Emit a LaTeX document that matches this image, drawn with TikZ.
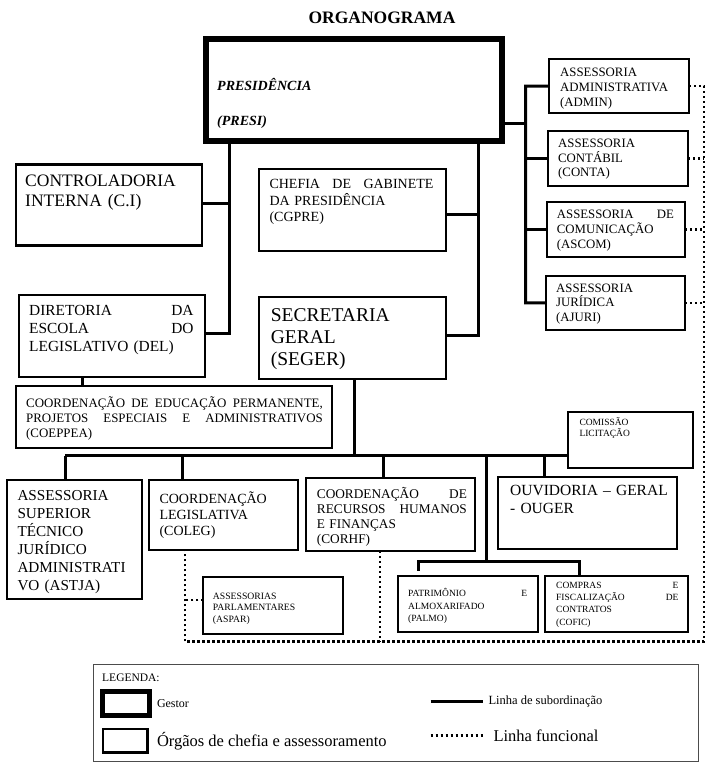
\documentclass[tikz,border=0pt]{standalone}
\usepackage{fontspec}
\setmainfont{Liberation Serif}
\usepackage{xcolor}
\newcommand{\fsz}[2]{\fontsize{#1}{#2}\selectfont}
\newcommand{\jl}[2]{\leavevmode\hbox to #1pt{#2}}

\begin{document}
\begin{tikzpicture}[x=1pt, y=-1pt,
  orgbox/.style={draw, line width=2.2pt, anchor=north west, inner sep=0pt, outer sep=0pt},
  gestorbox/.style={orgbox, line width=6pt},
  txt/.style={anchor=base west, inner sep=0pt, align=left},
  sub/.style={line width=3pt},
  func/.style={line width=2.6pt, dash pattern=on 2.4pt off 2.6pt}]
\path[fill=white, use as bounding box] (0,0) rectangle (721,768);
\node[anchor=base, font=\fsz{17.5}{20}\bfseries] (title) at (382,23.3) {ORGANOGRAMA};

\node[gestorbox, minimum width=296, minimum height=101.5] (presi) at (206,39.5) {};
\node[orgbox, minimum width=140, minimum height=54] (admin) at (549,59) {};
\node[orgbox, minimum width=140, minimum height=55] (conta) at (548,131) {};
\node[orgbox, minimum width=138.3, minimum height=55] (ascom) at (546.7,202) {};
\node[orgbox, minimum width=139.3, minimum height=54.3] (ajuri) at (545.7,275.7) {};
\node[orgbox, minimum width=186, minimum height=81] (ci) at (16,164.5) {};
\node[orgbox, minimum width=186.7, minimum height=82] (cgpre) at (259,169) {};
\node[orgbox, minimum width=186, minimum height=81.7] (del) at (19,295) {};
\node[orgbox, minimum width=186.7, minimum height=82.3] (seger) at (259,296.7) {};
\node[orgbox, minimum width=316, minimum height=62] (coeppea) at (16,386) {};
\node[orgbox, minimum width=124.4, minimum height=56] (comissao) at (568.3,412.3) {};
\node[orgbox, minimum width=134.7, minimum height=119] (astja) at (7,480) {};
\node[orgbox, minimum width=149, minimum height=70] (coleg) at (149.3,480) {};
\node[orgbox, minimum width=169, minimum height=72.7] (corhf) at (306,478.3) {};
\node[orgbox, minimum width=178.4, minimum height=72.3] (ouger) at (498.3,476.7) {};
\node[orgbox, minimum width=139.4, minimum height=57] (aspar) at (203.3,577.3) {};
\node[orgbox, minimum width=140, minimum height=56] (palmo) at (398,576) {};
\node[orgbox, minimum width=143, minimum height=56] (cofic) at (545,576) {};

\node[txt, text width=270, font=\fsz{14}{35.5}\bfseries\itshape] (presi-t) at ([shift={(11,50.5)}]presi.north west) {PRESIDÊNCIA\\(PRESI)};
\node[txt, text width=120, font=\fsz{12.8}{15}] (admin-t) at ([shift={(11,17)}]admin.north west) {ASSESSORIA\\ADMINISTRATIVA\\(ADMIN)};
\node[txt, text width=120, font=\fsz{12.8}{14.5}] (conta-t) at ([shift={(10,16.7)}]conta.north west) {ASSESSORIA\\CONTÁBIL\\(CONTA)};
\node[txt, text width=117, font=\fsz{12.8}{15}] (ascom-t) at ([shift={(10,16.3)}]ascom.north west) {\jl{117}{ASSESSORIA\hfill DE}\\COMUNICAÇÃO\\(ASCOM)};
\node[txt, text width=120, font=\fsz{12.8}{14.2}] (ajuri-t) at ([shift={(10.3,17)}]ajuri.north west) {ASSESSORIA\\JURÍDICA\\(AJURI)};
\node[txt, text width=170, font=\fsz{17.5}{20}] (ci-t) at ([shift={(9,22.2)}]ci.north west) {CONTROLADORIA\\INTERNA (C.I)};
\node[txt, text width=164, font=\fsz{14}{16.7}] (cgpre-t) at ([shift={(10.3,19.3)}]cgpre.north west) {\jl{164}{CHEFIA\hfill DE\hfill GABINETE}\\DA PRESIDÊNCIA\\(CGPRE)};
\node[txt, text width=164.3, font=\fsz{15.4}{18}] (del-t) at ([shift={(10,20)}]del.north west) {\jl{164.3}{DIRETORIA\hfill DA}\\\jl{164.3}{ESCOLA\hfill DO}\\LEGISLATIVO (DEL)};
\node[txt, text width=165, font=\fsz{19.5}{22}] (seger-t) at ([shift={(11.7,25)}]seger.north west) {SECRETARIA\\GERAL\\(SEGER)};
\node[txt, text width=296.6, font=\fsz{12.9}{15}] (coeppea-t) at ([shift={(10,21.7)}]coeppea.north west) {\jl{296.6}{COORDENAÇÃO\hfill DE\hfill EDUCAÇÃO\hfill PERMANENTE,}\\\jl{296.6}{PROJETOS\hfill ESPECIAIS\hfill E\hfill ADMINISTRATIVOS}\\(COEPPEA)};
\node[txt, text width=100, font=\fsz{9.5}{11}] (comissao-t) at ([shift={(11,13.4)}]comissao.north west) {COMISSÃO\\LICITAÇÃO};
\node[txt, text width=120, font=\fsz{15.2}{18}] (astja-t) at ([shift={(10.3,20)}]astja.north west) {ASSESSORIA\\SUPERIOR\\TÉCNICO\\JURÍDICO\\ADMINISTRATI\\VO (ASTJA)};
\node[txt, text width=130, font=\fsz{14}{16.3}] (coleg-t) at ([shift={(10,23.3)}]coleg.north west) {COORDENAÇÃO\\LEGISLATIVA\\(COLEG)};
\node[txt, text width=150, font=\fsz{13.3}{15.2}] (corhf-t) at ([shift={(10.7,20)}]corhf.north west) {\jl{150}{COORDENAÇÃO\hfill DE}\\\jl{150}{RECURSOS\hfill HUMANOS}\\E FINANÇAS\\(CORHF)};
\node[txt, text width=160, font=\fsz{15.5}{18}] (ouger-t) at ([shift={(11.7,18.3)}]ouger.north west) {OUVIDORIA – GERAL\\- OUGER};
\node[txt, text width=120, font=\fsz{9.7}{11.5}] (aspar-t) at ([shift={(9.4,22)}]aspar.north west) {ASSESSORIAS\\PARLAMENTARES\\(ASPAR)};
\node[txt, text width=119, font=\fsz{9.5}{12.5}] (palmo-t) at ([shift={(10,20.7)}]palmo.north west) {\jl{119}{PATRIMÔNIO\hfill E}\\ALMOXARIFADO\\(PALMO)};
\node[txt, text width=122.3, font=\fsz{9.5}{12.3}] (cofic-t) at ([shift={(11,12.3)}]cofic.north west) {\jl{122.3}{COMPRAS\hfill E}\\\jl{122.3}{FISCALIZAÇÃO\hfill DE}\\CONTRATOS\\(COFIC)};

\coordinate (lk) at (229.5,333.3);
\coordinate (ck) at (229.5,203.3);
\coordinate (mk) at (478.5,335);
\coordinate (gk) at (478.5,214.3);
\coordinate (pk) at (525.5,123.3);
\coordinate (rk) at (525.5,302.8);
\coordinate (fk) at (704,641.7);
\coordinate (dk) at (185,641.7);
\coordinate (ak) at (185,600);
\coordinate (ek) at (380,641.7);
\coordinate (sk) at (354,455.5);
\coordinate (bk) at (65,455.5);
\coordinate (kk) at (486,455.5);
\coordinate (pb1) at (418.3,561.7);
\coordinate (pb2) at (579,561.7);

\draw[sub] (presi.south -| lk) -- (lk) -- (del.east |- lk);
\draw[sub] (ci.east |- ck) -- (ck);
\draw[sub] (presi.south -| mk) -- (mk) -- (seger.east |- mk);
\draw[sub] (cgpre.east |- gk) -- (gk);
\draw[sub] (admin.west) -| (rk) -- (ajuri.west);
\draw[sub] (presi.east |- pk) -- (pk);
\draw[sub] (conta.west) -- (conta.west -| rk);
\draw[sub] (ascom.west) -- (ascom.west -| rk);
\draw[sub] (del.south -| 82.3,0) -- (coeppea.north -| 82.3,0);
\draw[sub] (seger.south -| sk) -- (sk);
\draw[sub] (bk) -- (comissao.west |- bk);
\foreach \n/\x in {astja/65, coleg/182, corhf/383, ouger/544}
  \draw[sub] (\x,455.5) -- (\n.north -| \x,0);
\draw[sub] (kk) -- (kk |- pb1);
\draw[sub] ([yshift=-9]pb1) -- (pb1) -- (pb2) -- (cofic.north -| pb2);

\draw[func] (admin.east) -| (fk) -- (dk) -- (dk |- coleg.south);
\foreach \n in {conta, ascom, ajuri}
  \draw[func] (\n.east) -- (\n.east -| fk);
\draw[func] (aspar.west |- ak) -- (ak);
\draw[func] (corhf.south -| ek) -- (ek);

\node[draw=black!70, line width=1pt, anchor=north west, minimum width=605, minimum height=97, inner sep=0pt] (legend) at (92.5,663.5) {};
\node[txt, font=\fsz{11.5}{13}] (legend-t) at ([shift={(9.5,17.9)}]legend.north west) {LEGENDA:};
\node[orgbox, line width=5pt, minimum width=47, minimum height=24] (lgestor) at (102,691.5) {};
\node[txt, font=\fsz{12}{14}] (lgestor-t) at (156.8,707) {Gestor};
\node[orgbox, minimum width=44.2, minimum height=23.5] (lorgao) at (103.2,729) {};
\node[txt, font=\fsz{16.5}{19}] (lorgao-t) at (156.8,746.4) {Órgãos de chefia e assessoramento};
\coordinate (lsub) at (430.7,701);
\coordinate (lfunc) at (430.7,735.7);
\node[txt, font=\fsz{12.5}{14}] (lsub-t) at (488.3,704.3) {Linha de subordinação};
\node[txt, font=\fsz{16.5}{19}] (lfunc-t) at (493.3,741) {Linha funcional};
\draw[sub] (lsub) -- ++(52,0);
\draw[func] (lfunc) -- ++(52.6,0);
\end{tikzpicture}
\end{document}
